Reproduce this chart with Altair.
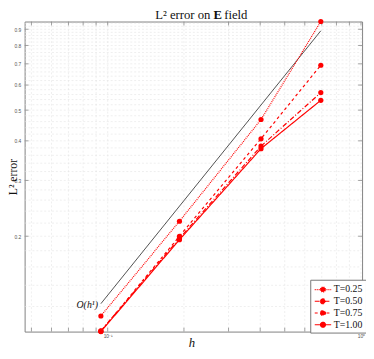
import altair as alt
import pandas as pd

# ---- data ----
h = [0.094, 0.192, 0.403, 0.694]
err_025 = [0.112, 0.223, 0.467, 0.952]
err_050 = [0.1005, 0.197, 0.385, 0.568]
err_075 = [0.1003, 0.200, 0.406, 0.693]
err_100 = [0.1000, 0.195, 0.378, 0.537]
series = ["T=0.25", "T=0.50", "T=0.75", "T=1.00"]
ref_h = [0.094, 0.694]
ref_err = [0.1225, 0.89]
ref_label = ["O(h¹)"]
x_domain = [0.047, 1.01]
y_domain = [0.1, 0.952]
y_labels = [0.2, 0.3, 0.4, 0.5, 0.6, 0.7, 0.8, 0.9]
y_minor = [0.12, 0.14, 0.16, 0.18, 0.22, 0.24, 0.26, 0.28, 0.32, 0.34, 0.36, 0.38,
           0.42, 0.44, 0.46, 0.48, 0.52, 0.54, 0.56, 0.58, 0.62, 0.64, 0.66, 0.68,
           0.72, 0.74, 0.76, 0.78, 0.82, 0.84, 0.86, 0.88, 0.92, 0.94]
x_major = [0.1, 1.0]
x_minor = [0.05, 0.06, 0.07, 0.08, 0.09, 0.2, 0.3, 0.4, 0.5, 0.6, 0.7, 0.8, 0.9]

W, H = 345, 317
RED = "#ff0000"
SERIF = "Liberation Serif"

rows = []
for name, vals in zip(series, [err_025, err_050, err_075, err_100]):
    for hv, ev in zip(h, vals):
        rows.append({"h": hv, "err": ev, "T": name})
df = pd.DataFrame(rows)
ref_df = pd.DataFrame({"h": ref_h, "err": ref_err})
lab_df = pd.DataFrame({"h": ref_h[:1], "err": ref_err[:1], "t": ref_label})

xs = alt.Scale(type="log", domain=x_domain, nice=False)
ys = alt.Scale(type="log", domain=y_domain, nice=False)

x_axis = alt.Axis(
    values=x_major, labelExpr="datum.value < 0.5 ? '10⁻¹' : '10⁰'",
    grid=False, ticks=False, domain=False, labelFontSize=5, labelColor="#555",
    labelPadding=2, title="h", titleFont=SERIF, titleFontSize=13,
    titleFontStyle="italic", titleFontWeight="normal", titleColor="#111",
    titleX=W / 2 - 2, titleY=15, titleBaseline="alphabetic")
y_axis = alt.Axis(
    values=y_labels, format=".1f", grid=False, ticks=False, domain=False,
    labelFontSize=5, labelColor="#555", labelPadding=4, title="L² error",
    titleFont=SERIF, titleFontSize=12, titleFontWeight="normal", titleColor="#111",
    titleX=-8, titleY=H / 2, titleBaseline="alphabetic", titleAngle=270)


def X(f):
    return alt.X(f, scale=xs, axis=x_axis)


def Y(f):
    return alt.Y(f, scale=ys, axis=y_axis)


gy = pd.DataFrame({"v": y_labels + y_minor})
gx = pd.DataFrame({"v": x_major + x_minor})

grid_y = alt.Chart(gy).mark_rule(color="#e4e4e4", strokeWidth=0.6, strokeDash=[2, 2]).encode(
    y=Y("v:Q"), x=alt.value(0), x2=alt.value(W))
grid_x = alt.Chart(gx).mark_rule(color="#e4e4e4", strokeWidth=0.6, strokeDash=[2, 2]).encode(
    x=X("v:Q"), y=alt.value(0), y2=alt.value(H))

ty = pd.DataFrame({"v": y_labels})
tick_l = alt.Chart(ty).mark_rule(color="#777", strokeWidth=0.7).encode(
    y=Y("v:Q"), x=alt.value(0), x2=alt.value(4))
tick_r = alt.Chart(ty).mark_rule(color="#777", strokeWidth=0.7).encode(
    y=Y("v:Q"), x=alt.value(W - 4), x2=alt.value(W))
tx = pd.DataFrame({"v": x_major + x_minor})
tick_b = alt.Chart(tx).mark_rule(color="#777", strokeWidth=0.7).encode(
    x=X("v:Q"), y=alt.value(H - 4), y2=alt.value(H))
tick_t = alt.Chart(tx).mark_rule(color="#777", strokeWidth=0.7).encode(
    x=X("v:Q"), y=alt.value(0), y2=alt.value(4))

ref_line = alt.Chart(ref_df).mark_line(color="#222", strokeWidth=0.8).encode(
    x=X("h:Q"), y=Y("err:Q"))
ref_text = alt.Chart(lab_df).mark_text(font=SERIF, fontSize=10, fontStyle="italic",
                                       align="right", dx=-3, dy=1, color="#111").encode(
    x=X("h:Q"), y=Y("err:Q"), text="t:N")

sym = "M-1.4,0H1.4M-0.42,0A0.42,0.42,0,1,0,0.42,0A0.42,0.42,0,1,0,-0.42,0Z"
lines = alt.Chart(df).mark_line(color=RED, strokeWidth=1.2, clip=True).encode(
    x=X("h:Q"),
    y=Y("err:Q"),
    strokeDash=alt.StrokeDash("T:N", scale=alt.Scale(
        domain=series, range=[[1, 1], [5, 2, 1, 2], [3, 3], [1, 0]]),
        legend=alt.Legend(title=None, orient="none", legendX=W - 53, legendY=H - 53,
                          symbolType=sym, symbolSize=144, symbolStrokeWidth=1.2,
                          symbolFillColor=RED, symbolStrokeColor=RED,
                          labelFont=SERIF, labelFontSize=10, labelColor="#111",
                          rowPadding=0, padding=3, strokeColor="#777", fillColor="white",
                          labelOffset=4, symbolOffset=3)),
    detail="T:N")
points = alt.Chart(df).mark_point(filled=True, color=RED, size=28, opacity=1).encode(
    x=X("h:Q"), y=Y("err:Q"))

t1 = alt.Chart(pd.DataFrame({"t": ["L² error on"]})).mark_text(
    font=SERIF, fontSize=13, align="right", baseline="alphabetic", color="#111").encode(
    x=alt.value(190), y=alt.value(-3), text="t:N")
t2 = alt.Chart(pd.DataFrame({"t": ["E"]})).mark_text(
    font=SERIF, fontSize=13, fontWeight="bold", align="left", baseline="alphabetic", color="#111").encode(
    x=alt.value(193), y=alt.value(-3), text="t:N")
t3 = alt.Chart(pd.DataFrame({"t": ["field"]})).mark_text(
    font=SERIF, fontSize=13, align="left", baseline="alphabetic", color="#111").encode(
    x=alt.value(204), y=alt.value(-3), text="t:N")

chart = alt.layer(grid_y, grid_x, tick_l, tick_r, tick_b, tick_t, ref_line, lines, points,
                  ref_text, t1, t2, t3).properties(
    width=W, height=H, autosize=alt.AutoSizeParams(type="none"),
    padding={"left": 17, "top": 10, "right": 4, "bottom": 16}, background="white",
).configure_view(stroke="#808080", strokeWidth=1)

chart.save("out.html", embed_options={"renderer": "svg", "actions": False})
